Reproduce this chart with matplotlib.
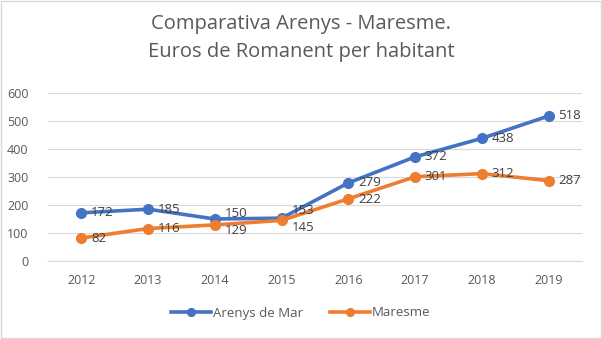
import matplotlib.pyplot as plt
from matplotlib.patches import Rectangle

years = ["2012", "2013", "2014", "2015", "2016", "2017", "2018", "2019"]
arenys = [172, 185, 150, 153, 279, 372, 438, 518]
maresme = [82, 116, 129, 145, 222, 301, 312, 287]

plt.rcParams['font.family'] = ['Open Sans', 'DejaVu Sans']

fig = plt.figure(figsize=(6.02, 3.39), dpi=100)
ax = fig.add_axes([48 / 602, 1 - 261 / 339, 534 / 602, 168 / 339])

x = list(range(len(years)))
ax.plot(x, arenys, color='#4472C4', lw=2.6, marker='o', ms=7, label='Arenys de Mar', zorder=3)
ax.plot(x, maresme, color='#ED7D31', lw=2.6, marker='o', ms=7, label='Maresme', zorder=3)

# data labels right of each point; where the two series nearly touch,
# push them a little apart so they stay readable
for i in x:
    gap = (arenys[i] - maresme[i]) * 168 / 600  # px between points
    dy = max(0, (17 - gap) / 2) * 0.72         # px -> pt
    ax.annotate(str(arenys[i]), (i, arenys[i]), xytext=(7, dy), textcoords='offset points',
                va='center', ha='left', fontsize=9.5, color='#404040', zorder=4)
    ax.annotate(str(maresme[i]), (i, maresme[i]), xytext=(7, -dy), textcoords='offset points',
                va='center', ha='left', fontsize=9.5, color='#404040', zorder=4)

ax.set_xlim(-0.5, 7.5)
ax.set_ylim(0, 600)
ax.set_yticks(range(0, 601, 100))
ax.set_xticks(x)
ax.set_xticklabels(years)
ax.grid(axis='y', color='#D9D9D9', lw=0.8)
ax.set_axisbelow(True)
for s in ['top', 'right', 'left']:
    ax.spines[s].set_visible(False)
ax.spines['bottom'].set_color('#D9D9D9')
ax.tick_params(length=0, labelsize=9, colors='#595959')
ax.tick_params(axis='x', pad=9)
ax.tick_params(axis='y', pad=14)

fig.text(0.5, 1 - 24 / 339, "Comparativa Arenys - Maresme.", ha='center', va='center',
         fontsize=14.5, color='#595959')
fig.text(0.5, 1 - 52 / 339, "Euros de Romanent per habitant", ha='center', va='center',
         fontsize=14.5, color='#595959')

fig.legend(loc='center', bbox_to_anchor=(0.5, 1 - 313 / 339), ncol=2, frameon=False,
           fontsize=9.5, handlelength=3, handletextpad=0.2, columnspacing=2,
           labelcolor='#595959', markerscale=0.8)

fig.patches.append(Rectangle((0.002, 0.004), 0.996, 0.992, transform=fig.transFigure,
                             fill=False, edgecolor='#D9D9D9', lw=1))

fig.savefig('out.png', dpi=100)
